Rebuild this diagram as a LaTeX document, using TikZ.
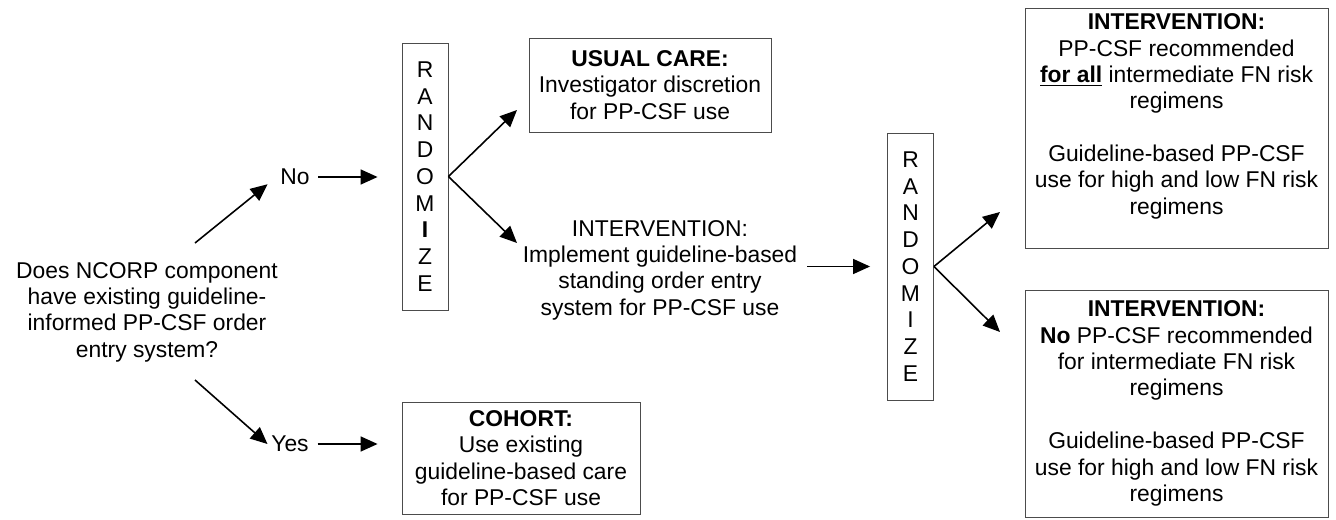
\documentclass[tikz,border=0pt]{standalone}
\usepackage{fontspec}
\setmainfont{Liberation Sans}
\usetikzlibrary{arrows.meta,calc}

\tikzset{
  txt/.style={align=center,inner sep=2pt,font=\fontsize{13}{15}\selectfont},
  box/.style={txt,draw=black!70,line width=0.5pt},
  randbox/.style={box,minimum width=0.92cm,minimum height=5.34cm,font=\fontsize{13}{15.2}\selectfont},
  arr/.style={line width=0.9pt,-{Triangle[length=0.34cm,width=0.3cm]}}
}

\begin{document}
\begin{tikzpicture}
\useasboundingbox (0,0) rectangle (26.72,10.38);
\draw (2.94,4.14) node[txt] (q) {Does NCORP component\\have existing guideline-\\informed PP-CSF order\\entry system?};
\draw (5.90,6.84) node[txt] (no) {No};
\draw (5.80,1.50) node[txt] (yes) {Yes};
\draw (8.50,6.85) node[randbox] (r1) {R\\A\\N\\D\\O\\M\\\textbf{I}\\Z\\E};
\draw (13.00,8.68) node[box,minimum width=4.84cm,minimum height=1.88cm] (usual) {\textbf{USUAL CARE:}\\Investigator discretion\\for PP-CSF use};
\draw (13.20,4.98) node[txt] (mid) {INTERVENTION:\\Implement guideline-based\\standing order entry\\system for PP-CSF use};
\draw (10.42,1.22) node[box,minimum width=4.76cm,minimum height=2.24cm] (cohort) {\textbf{COHORT:}\\Use existing\\guideline-based care\\for PP-CSF use};
\draw (18.21,5.05) node[randbox] (r2) {R\\A\\N\\D\\O\\M\\I\\Z\\E};
\draw (23.53,7.82) node[box,minimum width=6.06cm,minimum height=4.8cm] (top) {\textbf{INTERVENTION:}\\PP-CSF recommended\\\underline{\textbf{for all}} intermediate FN risk\\regimens\\[15pt]Guideline-based PP-CSF\\use for high and low FN risk\\regimens\\[1pt]\mbox{}};
\draw (23.53,2.31) node[box,minimum width=6.06cm,minimum height=4.54cm] (bot) {\textbf{INTERVENTION:}\\\textbf{No} PP-CSF recommended\\for intermediate FN risk\\regimens\\[15pt]Guideline-based PP-CSF\\use for high and low FN risk\\regimens};
\coordinate (qup) at (3.90,5.52);
\coordinate (qdn) at (3.90,2.78);
\coordinate (ucin) at (10.34,8.18);
\coordinate (mdin) at (10.34,5.52);
\coordinate (topin) at (20.00,6.14);
\coordinate (botin) at (20.00,3.74);
\draw[arr,shorten >=0.23cm] (qup) -- (no.west);
\draw[arr] (qdn) -- (yes.west);
\draw[arr,shorten <=0.1cm,shorten >=0.48cm] (no.east) -- (no.east -| r1.west);
\draw[arr,shorten <=0.1cm,shorten >=0.48cm] (yes.east) -- (yes.east -| cohort.west);
\draw[arr] (r1.east) -- (ucin);
\draw[arr] (r1.east) -- (mdin);
\draw[arr,shorten <=0.12cm,shorten >=0.34cm] (mid.east |- r2.west) -- (r2.west);
\draw[arr] (r2.east) -- (topin);
\draw[arr] (r2.east) -- (botin);
\end{tikzpicture}
\end{document}
